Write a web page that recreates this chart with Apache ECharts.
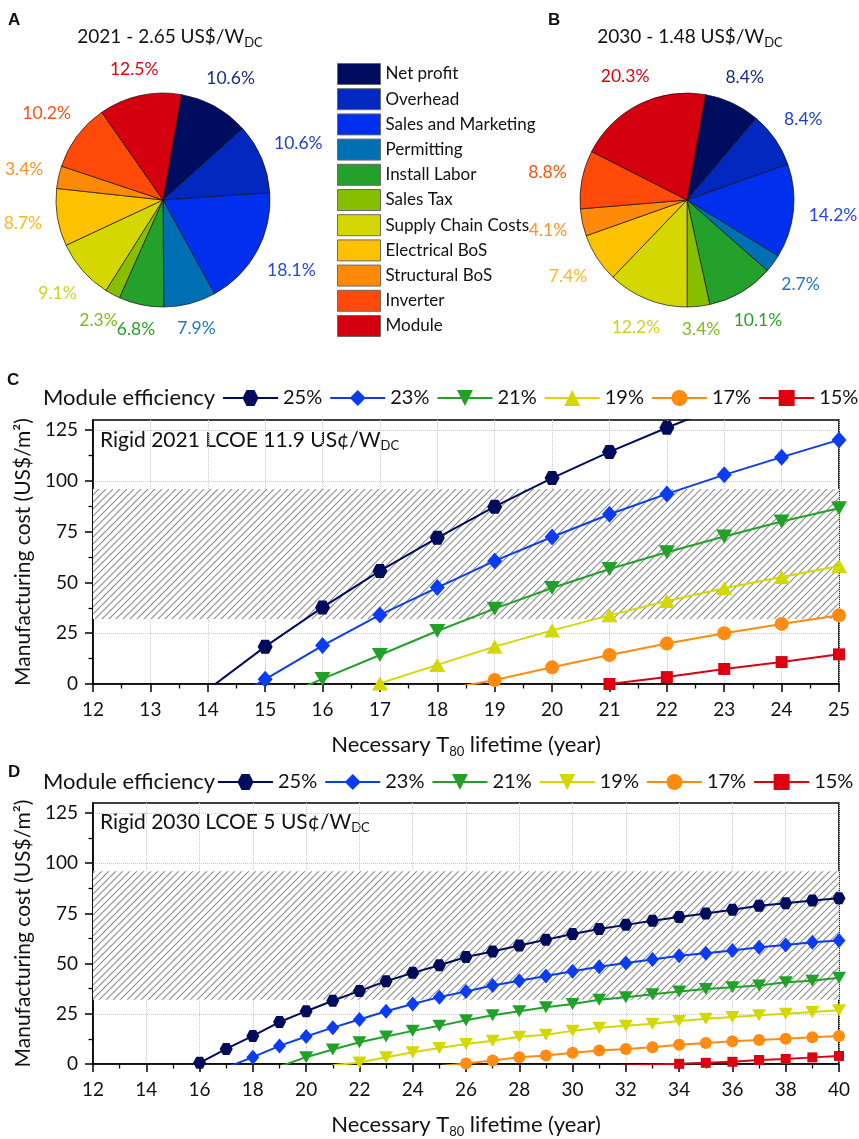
<!DOCTYPE html>
<html>
<head>
<meta charset="utf-8">
<script src="https://cdn.jsdelivr.net/npm/echarts@6/dist/echarts.min.js"></script>
<style>
  html, body { margin: 0; padding: 0; background: #fff; }
  #chart { width: 859px; height: 1139px; }
</style>
</head>
<body>
<div id="chart"></div>
<script>
// ---- Installed-system price breakdown (share of total, %) ----
const costComponents = ['Net profit', 'Overhead', 'Sales and Marketing', 'Permitting', 'Install Labor',
  'Sales Tax', 'Supply Chain Costs', 'Electrical BoS', 'Structural BoS', 'Inverter', 'Module'];
const share2021 = [10.6, 10.6, 18.1, 7.9, 6.8, 2.3, 9.1, 8.7, 3.4, 10.2, 12.5];
const share2030 = [8.4, 8.4, 14.2, 2.7, 10.1, 3.4, 12.2, 7.4, 4.1, 8.8, 20.3];

// ---- Allowed manufacturing cost vs. necessary T80 lifetime ----
const efficiencies = ['25%', '23%', '21%', '19%', '17%', '15%'];

const yearsC = [12, 13, 14, 15, 16, 17, 18, 19, 20, 21, 22, 23, 24, 25];
const costC25 = [null, null, -2.8, 18.4, 37.7, 55.7, 72.0, 87.3, 101.4, 114.3, 126.2, 137.5, null, null];
const costC23 = [null, null, -14.0, 2.3, 18.9, 34.0, 47.5, 60.6, 72.4, 83.6, 93.6, 103.0, 111.7, 120.2];
const costC21 = [null, null, null, -9.5, 2.5, 14.3, 26.1, 37.1, 47.3, 56.6, 64.9, 72.6, 80.0, 86.5];
const costC19 = [null, null, null, null, null, 0.3, 9.4, 18.4, 26.4, 33.8, 40.9, 47.1, 52.7, 58.1];
const costC17 = [null, null, null, null, null, null, -3.4, 2.0, 8.2, 14.3, 19.9, 25.0, 29.6, 33.8];
const costC15 = [null, null, null, null, null, null, null, null, null, 0.0, 3.4, 7.4, 10.8, 14.6];

const yearsD = [12, 13, 14, 15, 16, 17, 18, 19, 20, 21, 22, 23, 24, 25, 26,
  27, 28, 29, 30, 31, 32, 33, 34, 35, 36, 37, 38, 39, 40];
const costD25 = [null, null, null, null, 0.6, 7.5, 14.0, 20.9, 26.3, 31.5, 36.4, 41.2, 45.4, 49.2, 53.3,
  56.0, 59.0, 61.9, 64.7, 67.2, 69.3, 71.4, 73.2, 75.0, 76.8, 78.8, 80.1, 81.4, 82.5];
const costD23 = [null, null, null, null, null, -1.8, 3.4, 9.0, 13.7, 18.1, 22.2, 26.3, 29.9, 33.3, 36.1,
  39.1, 41.5, 43.8, 46.2, 48.4, 50.3, 52.1, 53.9, 55.2, 56.5, 58.2, 59.3, 60.6, 61.5];
const costD21 = [null, null, null, null, null, null, null, -1.3, 3.4, 7.2, 10.8, 13.7, 16.5, 19.0, 21.8,
  24.3, 26.3, 28.3, 29.9, 32.0, 33.2, 34.8, 36.1, 37.3, 38.2, 39.1, 40.7, 41.5, 43.0];
const costD19 = [null, null, null, null, null, null, null, null, null, -0.6, 0.7, 3.4, 5.8, 8.0, 10.0,
  11.6, 13.6, 14.6, 16.5, 18.1, 19.0, 20.1, 21.4, 22.5, 23.4, 24.3, 25.0, 25.9, 26.8];
const costD17 = [null, null, null, null, null, null, null, null, null, null, null, null, null, -1.1, 0.2,
  1.8, 3.4, 4.2, 5.6, 6.7, 7.5, 8.4, 9.6, 10.5, 11.3, 12.0, 12.6, 13.3, 14.0];
const costD15 = [null, null, null, null, null, null, null, null, null, null, null, null, null, null, null,
  null, null, null, null, -1.5, -0.8, -0.3, 0.1, 0.6, 1.1, 2.0, 2.5, 3.3, 4.0];

// Shaded band of current manufacturing cost (US$/m2)
const costBand = [32, 96];
const yMajorTicks = [0, 25, 50, 75, 100, 125];
const yMinorTicks = [12.5, 37.5, 62.5, 87.5, 112.5];

// ---- Styles ----
const FONT = 'Lato';
const sliceColors = ['#000c5e', '#0228bf', '#0030ee', '#0070b5', '#23a12b', '#86be00',
  '#d5d800', '#fcc100', '#ff8a0a', '#ff4a0a', '#d5000f'];
const sliceLabelColors = ['#1b2a82', '#1f3fd0', '#2446f2', '#2476c4', '#2c9e2c', '#7dbb1e',
  '#cfd21a', '#ffb81c', '#ff9326', '#ff5014', '#e0000f'];
const lineColors = ['#010b5b', '#0b3cf2', '#22a128', '#d2d800', '#ff8c11', '#dc0010'];

const HEX = 'path://M-10,0L-5,-8.66L5,-8.66L10,0L5,8.66L-5,8.66Z';
const DIAMOND = 'diamond';
const UP_TRI = 'path://M10,0L20,17.3L0,17.3Z';
const DOWN_TRI = 'path://M0,0L20,0L10,17.3Z';
const markersC = [[HEX, [15, 14]], [DIAMOND, [15, 17]], [DOWN_TRI, [16, 14]], [UP_TRI, [16, 14]], ['circle', 14], ['rect', 12]];
const markersD = [[HEX, [13, 12]], [DIAMOND, [13, 15]], [DOWN_TRI, [14, 12]], [DOWN_TRI, [14, 12]], ['circle', 12], ['rect', 10]];

// diagonal hatch fill
function hatchPattern() {
  const s = 7;
  const c = document.createElement('canvas');
  c.width = s; c.height = s;
  const g = c.getContext('2d');
  g.fillStyle = '#ffffff';
  g.fillRect(0, 0, s, s);
  g.strokeStyle = '#8e8e8e';
  g.lineWidth = 1.15;
  g.beginPath();
  g.moveTo(-1, s + 1); g.lineTo(s + 1, -1);
  g.moveTo(-1, 1); g.lineTo(1, -1);
  g.moveTo(s - 1, s + 1); g.lineTo(s + 1, s - 1);
  g.stroke();
  return { image: c, repeat: 'repeat' };
}

// place each pie label centred just outside its slice
function pieLabelPlacer(values, cx, cy, r, startAngle) {
  const total = values.reduce((a, b) => a + b, 0);
  return function (p) {
    const before = values.slice(0, p.dataIndex).reduce((a, b) => a + b, 0);
    const frac = (before + values[p.dataIndex] / 2) / total;
    const ang = (90 - startAngle + frac * 360) * Math.PI / 180;
    const sx = Math.sin(ang), sy = -Math.cos(ang);
    const w = p.labelRect.width, h = p.labelRect.height;
    const d = r + 15 + Math.abs(sx) * w / 2 + Math.abs(sy) * h * 0.35;
    return { x: cx + sx * d, y: cy + sy * d, align: 'center', verticalAlign: 'middle' };
  };
}

const PIE_R = 107, PIE_START = 80;
const pieA = [163, 200], pieB = [687, 200];

function pieSeries(values, center) {
  return {
    type: 'pie',
    center: center,
    radius: PIE_R,
    startAngle: PIE_START,
    clockwise: true,
    avoidLabelOverlap: false,
    silent: true,
    itemStyle: { borderColor: '#111', borderWidth: 0.7 },
    label: {
      show: true, position: 'outside', formatter: '{c}%',
      fontFamily: FONT, fontSize: 17.5
    },
    labelLine: { show: false },
    labelLayout: pieLabelPlacer(values, center[0], center[1], PIE_R, PIE_START),
    data: costComponents.map((name, i) => ({
      name: name, value: values[i],
      itemStyle: { color: sliceColors[i] },
      label: { color: sliceLabelColors[i] }
    }))
  };
}

const toPairs = (xs, ys) => xs.map((x, i) => [x, ys[i]]).filter(p => p[1] !== null);

function lineSeries(panel, gridIdx, xs, ys, k, markers, lw) {
  return {
    type: 'line',
    name: panel + '|' + efficiencies[k],
    xAxisIndex: gridIdx, yAxisIndex: gridIdx * 2,
    data: toPairs(xs, ys),
    symbol: markers[k][0],
    symbolSize: markers[k][1],
    showAllSymbol: true,
    clip: true,
    color: lineColors[k],
    lineStyle: { width: lw, color: lineColors[k] },
    itemStyle: { color: lineColors[k] },
    z: 3 + (5 - k) * 0.01
  };
}

const seriesC = [costC25, costC23, costC21, costC19, costC17, costC15]
  .map((ys, k) => lineSeries('C', 0, yearsC, ys, k, markersC, 2));
const seriesD = [costD25, costD23, costD21, costD19, costD17, costD15]
  .map((ys, k) => lineSeries('D', 1, yearsD, ys, k, markersD, 2));

const hatch = hatchPattern();
[seriesC[5], seriesD[5]].forEach(s => {
  s.markArea = {
    silent: true,
    itemStyle: { color: hatch, borderWidth: 0 },
    data: [[{ yAxis: costBand[0] }, { yAxis: costBand[1] }]]
  };
});

const subRich = {
  s: { fontFamily: FONT, fontSize: 13, lineHeight: 10, verticalAlign: 'bottom', fill: '#111', color: '#111' }
};

function xAxisFor(gridIdx, min, max, interval) {
  return {
    type: 'value', gridIndex: gridIdx, min: min, max: max, interval: interval,
    name: 'Necessary T{s|80} lifetime (year)',
    nameLocation: 'middle', nameGap: 48,
    nameTextStyle: { fontFamily: FONT, fontSize: 22, color: '#111', lineHeight: 26, rich: subRich },
    axisLine: { onZero: false, lineStyle: { color: '#000', width: 1.6 } },
    axisTick: { length: 8, lineStyle: { color: '#000', width: 1.5 } },
    minorTick: { show: true, splitNumber: 2, length: 4.5, lineStyle: { color: '#000', width: 1.3 } },
    axisLabel: { fontFamily: FONT, fontSize: 19, color: '#111', margin: 16 },
    splitLine: { show: true, lineStyle: { type: 'dotted', color: '#c8c8c8', width: 1 } }
  };
}

function yAxesFor(gridIdx) {
  return [{
    type: 'value', gridIndex: gridIdx, min: 0, max: 130, interval: 25, position: 'left',
    name: 'Manufacturing cost (US$/m²)',
    nameLocation: 'middle', nameGap: 54, nameRotate: 90,
    nameTextStyle: { fontFamily: FONT, fontSize: 21, color: '#111' },
    axisLine: { show: true, lineStyle: { color: '#000', width: 1.6 } },
    axisTick: { show: true, length: 8, customValues: yMajorTicks, lineStyle: { color: '#000', width: 1.5 } },
    axisLabel: { fontFamily: FONT, fontSize: 19, color: '#111', margin: 15, customValues: yMajorTicks },
    splitLine: { show: true, lineStyle: { type: 'dotted', color: '#c8c8c8', width: 1 } }
  }, {
    type: 'value', gridIndex: gridIdx, min: 0, max: 130, position: 'left',
    axisLine: { show: false },
    axisTick: { show: true, length: 4.5, customValues: yMinorTicks, lineStyle: { color: '#000', width: 1.3 } },
    axisLabel: { show: false },
    splitLine: { show: false }
  }];
}

function effLegend(panel, left, top) {
  return {
    data: efficiencies.map(e => panel + '|' + e),
    formatter: name => name.split('|')[1],
    left: left, top: top, width: 700, orient: 'horizontal',
    itemWidth: 55, itemHeight: 20, itemGap: 7, padding: 0,
    selectedMode: false,
    textStyle: { fontFamily: FONT, fontSize: 20, color: '#111' }
  };
}

function text(x, y, str, size, opts) {
  return {
    type: 'text', x: x, y: y, silent: true,
    style: Object.assign({
      text: str, fontFamily: FONT, fontSize: size, fill: '#111',
      align: 'left', verticalAlign: 'middle', lineHeight: 24, rich: subRich
    }, opts || {})
  };
}

const option = {
  animation: false,
  backgroundColor: '#ffffff',
  grid: [
    { left: 93, right: 20, top: 420, height: 264, show: true, borderColor: '#000', borderWidth: 1.6, backgroundColor: 'transparent' },
    { left: 93, right: 20, top: 803, height: 264, show: true, borderColor: '#000', borderWidth: 1.6, backgroundColor: 'transparent' }
  ],
  xAxis: [xAxisFor(0, 12, 25, 1), xAxisFor(1, 12, 40, 2)],
  yAxis: yAxesFor(0).concat(yAxesFor(1)),
  legend: [
    {
      data: costComponents, orient: 'vertical', left: 337, top: 63, padding: 0,
      itemWidth: 43, itemHeight: 21, itemGap: 3.2, icon: 'rect', selectedMode: false,
      itemStyle: { borderColor: '#6a6a6a', borderWidth: 1 },
      textStyle: { fontFamily: FONT, fontSize: 17, color: '#111' }
    },
    effLegend('C', 222, 388),
    effLegend('D', 217, 772)
  ],
  series: [pieSeries(share2021, pieA), pieSeries(share2030, pieB)].concat(seriesC, seriesD),
  graphic: [
    text(8, 20, 'A', 17, { fontFamily: 'Liberation Sans', fontWeight: 'bold' }),
    text(548, 20, 'B', 17, { fontFamily: 'Liberation Sans', fontWeight: 'bold' }),
    text(7, 380, 'C', 17, { fontFamily: 'Liberation Sans', fontWeight: 'bold' }),
    text(8, 772, 'D', 17, { fontFamily: 'Liberation Sans', fontWeight: 'bold' }),
    text(170, 37, '2021 - 2.65 US$/W{s|DC}', 19, { align: 'center' }),
    text(690, 37, '2030 - 1.48 US$/W{s|DC}', 19, { align: 'center' }),
    text(43, 398, 'Module efficiency', 22),
    text(43, 782, 'Module efficiency', 22),
    text(100, 440, 'Rigid 2021 LCOE 11.9 US¢/W{s|DC}', 21),
    text(100, 822, 'Rigid 2030 LCOE 5 US¢/W{s|DC}', 21)
  ]
};

const chart = echarts.init(document.getElementById('chart'), null, { renderer: 'canvas' });
chart.setOption(option);
</script>
</body>
</html>
